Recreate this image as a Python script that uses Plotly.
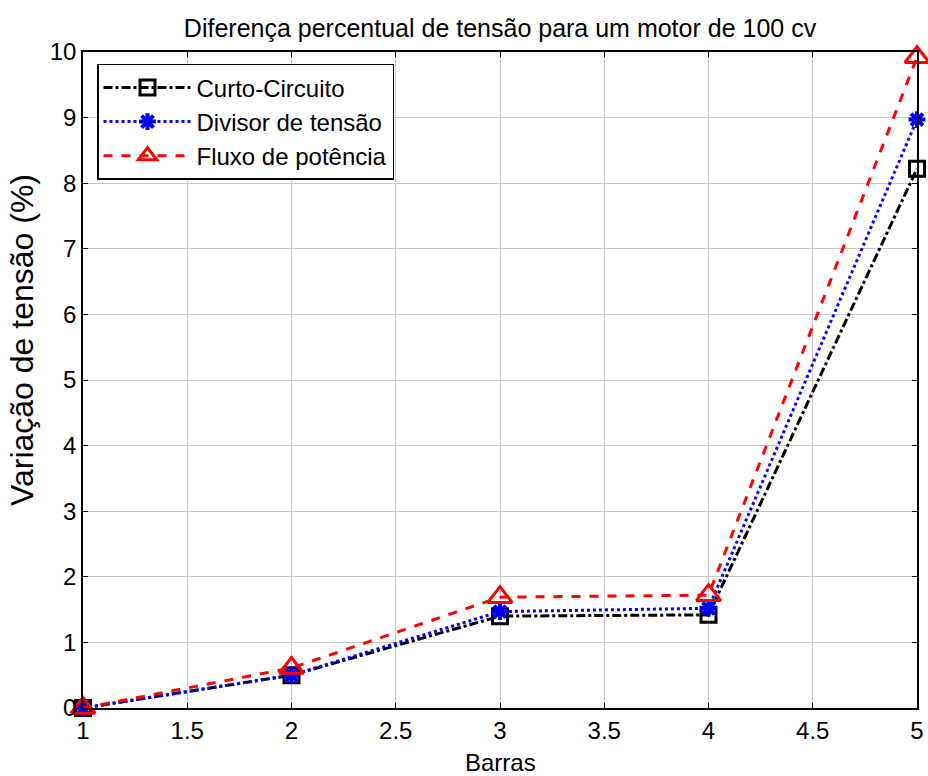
import plotly.graph_objects as go

barras = [1, 2, 3, 4, 5]
curto_circuito = [0.0, 0.50, 1.40, 1.42, 8.22]
divisor_tensao = [0.0, 0.50, 1.47, 1.52, 8.97]
fluxo_potencia = [0.0, 0.61, 1.69, 1.72, 9.92]

x_ticks = [1, 1.5, 2, 2.5, 3, 3.5, 4, 4.5, 5]
x_tick_labels = ["1", "1.5", "2", "2.5", "3", "3.5", "4", "4.5", "5"]
y_ticks = list(range(0, 11))

FONT = "Liberation Sans, Arial, sans-serif"

fig = go.Figure()
fig.add_trace(go.Scatter(
    x=barras, y=curto_circuito, name="Curto-Circuito", mode="lines+markers",
    cliponaxis=False,
    line=dict(color="black", width=3, dash="dashdot"),
    marker=dict(symbol="square-open", size=15, color="black", line=dict(width=3, color="black")),
))
fig.add_trace(go.Scatter(
    x=barras, y=divisor_tensao, name="Divisor de tensão", mode="lines+markers",
    cliponaxis=False,
    line=dict(color="blue", width=3, dash="dot"),
    marker=dict(symbol="asterisk-open", size=14, color="blue", line=dict(width=4, color="blue")),
))
fig.add_trace(go.Scatter(
    x=barras, y=fluxo_potencia, name="Fluxo de potência", mode="lines+markers",
    cliponaxis=False,
    line=dict(color="red", width=3, dash="dash"),
    marker=dict(symbol="triangle-up-open", size=21, color="red", line=dict(width=3, color="red")),
))

axis_common = dict(
    showgrid=True, gridcolor="#c8c8c8", gridwidth=1,
    showline=True, linecolor="black", linewidth=1.5, mirror="ticks",
    ticks="inside", ticklen=5, tickcolor="black", tickwidth=1,
    tickfont=dict(family=FONT, size=24, color="black"),
    zeroline=False, automargin=False,
)

fig.update_layout(
    width=928, height=776,
    margin=dict(l=83, r=11, t=52, b=68, autoexpand=False),
    paper_bgcolor="white", plot_bgcolor="white",
    font=dict(family=FONT, size=24, color="black"),
    title=dict(text="Diferença percentual de tensão para um motor de 100 cv",
               x=0.5, xref="paper", xanchor="center", y=0.964, yanchor="middle",
               font=dict(family=FONT, size=25, color="black")),
    xaxis=dict(axis_common, range=[1, 5], tickvals=x_ticks, ticktext=x_tick_labels),
    yaxis=dict(axis_common, range=[0, 10], tickvals=y_ticks),
    legend=dict(x=0.0168, y=0.982, xanchor="left", yanchor="top",
                bordercolor="black", borderwidth=1.5, bgcolor="white",
                font=dict(family=FONT, size=24, color="black"), itemwidth=88,
                tracegroupgap=0),
    showlegend=True,
    annotations=[
        dict(text="Variação de tensão (%)", textangle=-90,
             xref="paper", yref="paper", x=-0.0731, y=0.561,
             xanchor="center", yanchor="middle", showarrow=False,
             font=dict(family=FONT, size=32, color="black")),
        dict(text="Barras",
             xref="paper", yref="paper", x=0.5, y=-0.0838,
             xanchor="center", yanchor="middle", showarrow=False,
             font=dict(family=FONT, size=24, color="black")),
    ],
)

fig.write_html("out.html")
